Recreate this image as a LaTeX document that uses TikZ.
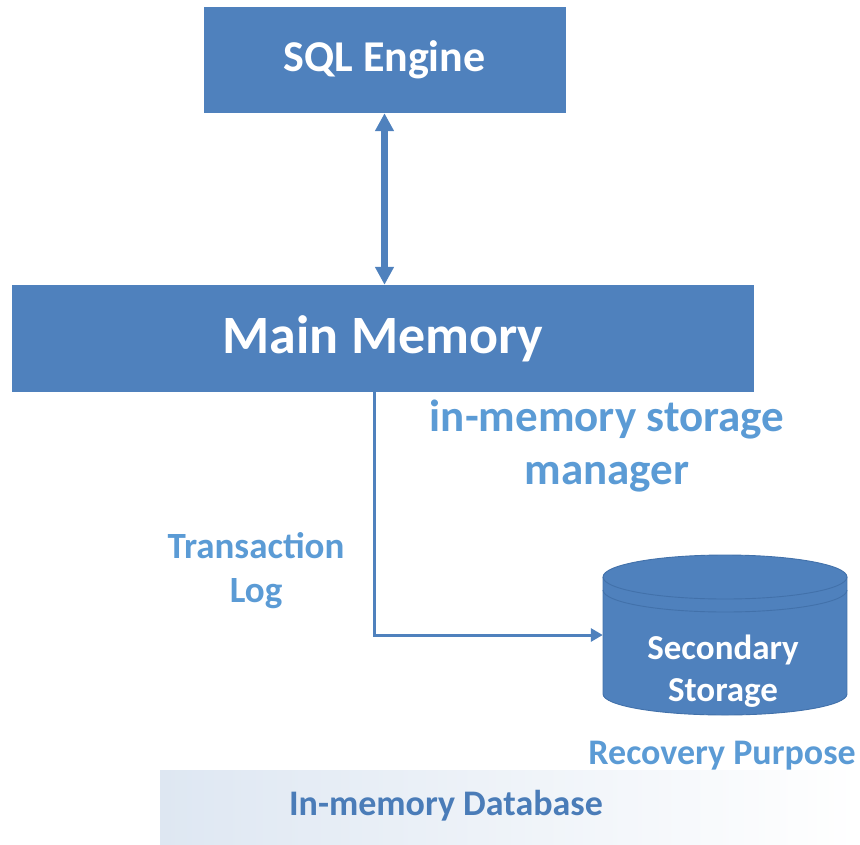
\documentclass[tikz,border=0pt]{standalone}
\usepackage{fontspec}
\setmainfont{Carlito}
\usetikzlibrary{arrows.meta}
\definecolor{boxblue}{RGB}{79,129,189}
\definecolor{rimblue}{RGB}{66,113,170}
\definecolor{lblblue}{RGB}{91,155,213}
\definecolor{dbblue}{RGB}{74,124,184}
\definecolor{shadeblue}{RGB}{222,231,242}
\tikzset{
  box/.style={fill=boxblue, draw=none, text=white, font=\bfseries, inner sep=0pt},
  lbl/.style={text=lblblue, font=\bfseries, align=center, inner sep=0pt},
  rim/.style={draw=rimblue, line width=0.9pt},
  bigarrow/.style={draw=boxblue, line width=7pt, {Triangle[width=18pt,length=18pt]}-{Triangle[width=18pt,length=18pt]}},
  logarrow/.style={draw=boxblue, line width=3pt, -{Triangle[width=13pt,length=12pt]}}
}
\begin{document}
\begin{tikzpicture}[x=1pt,y=-1pt]
\useasboundingbox (0,0) rectangle (860,844);
% background band
\shade[left color=shadeblue, right color=white] (160,770) rectangle (860,844);
% boxes
\node[box, minimum width=362pt, minimum height=106pt, font=\bfseries\fontsize{44}{52}\selectfont] (sql) at (384.5,60) {SQL Engine};
\node[box, minimum width=742pt, minimum height=107pt, font=\bfseries\fontsize{54}{62}\selectfont] (mem) at (383,338.5) {Main Memory};
% double arrow
\draw[bigarrow] (sql.south) -- (sql.south |- mem.north);
% cylinder
\node[minimum width=244pt, minimum height=160pt, inner sep=0pt] (ss) at (725,635) {};
\fill[boxblue] (725,694) ellipse[x radius=122, y radius=21];
\fill[boxblue] (603,577) rectangle (847,694);
\fill[boxblue] (725,577) ellipse[x radius=122, y radius=22];
\draw[rim] (725,577) ellipse[x radius=122, y radius=22];
\draw[rim] (603,590) arc[start angle=180, end angle=0, x radius=122, y radius=22];
\draw[rim] (603,577) -- (603,694) arc[start angle=180, end angle=0, x radius=122, y radius=21] -- (847,577);
\node[text=white, font=\bfseries\fontsize{35}{42}\selectfont, align=center] (sstext) at (723,671) {Secondary\\Storage};
% log arrow
\draw[logarrow] ([xshift=-9pt]mem.south) |- (ss.west);
% labels
\node[lbl, font=\bfseries\fontsize{45}{53}\selectfont] (mgr) at (607,446) {in-memory storage\\manager};
\node[lbl, font=\bfseries\fontsize{37}{44}\selectfont] (tlog) at (256,571) {Transaction\\Log};
\node[lbl, font=\bfseries\fontsize{36}{40}\selectfont, anchor=east] (rec) at (856,756) {Recovery Purpose};
\node[lbl, text=dbblue, font=\bfseries\fontsize{36}{40}\selectfont] (imdb) at (446,806) {In-memory Database};
\end{tikzpicture}
\end{document}
